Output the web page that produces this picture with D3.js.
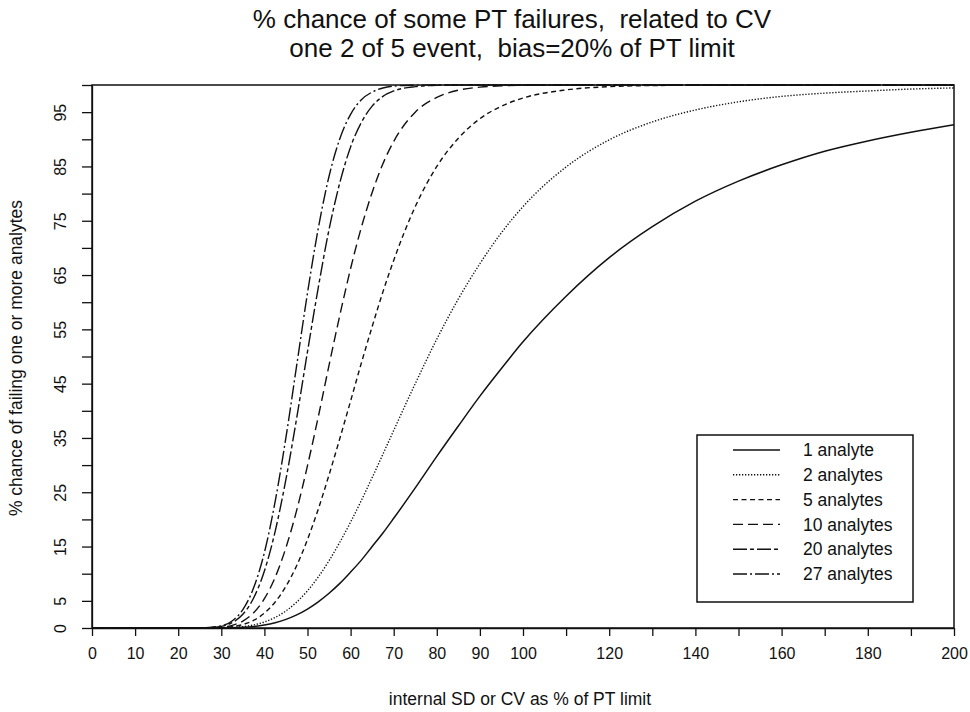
<!DOCTYPE html>
<html>
<head>
<meta charset="utf-8">
<script src="https://cdn.jsdelivr.net/npm/d3@7"></script>
<style>
  body { margin: 0; background: #fff; }
  text { font-family: "Liberation Sans", Arial, sans-serif; fill: #111; }
</style>
</head>
<body>
<div id="chart"></div>
<script>
// x values: internal SD or CV as % of PT limit
var cvValues = [0, 10, 20, 25, 30, 32.5, 35, 37.5, 40, 42.5, 45, 47.5, 50, 52.5, 55, 57.5, 60, 62.5, 65, 67.5, 70, 75, 80, 85, 90, 95, 100, 110, 120, 130, 140, 150, 160, 170, 180, 190, 200];

// % chance of failing, one array per series
var analytes1  = [0, 0, 0, 0, 0.01, 0.05, 0.13, 0.28, 0.55, 0.98, 1.59, 2.42, 3.49, 4.82, 6.40, 8.22, 10.3, 12.5, 15.0, 17.5, 20.2, 25.8, 31.6, 37.2, 42.7, 47.8, 52.7, 61.1, 68.2, 73.9, 78.6, 82.3, 85.3, 87.8, 89.7, 91.3, 92.7];
var analytes2  = [0, 0, 0, 0, 0.03, 0.10, 0.26, 0.57, 1.10, 1.94, 3.15, 4.78, 6.86, 9.40, 12.4, 15.8, 19.5, 23.5, 27.7, 32.0, 36.4, 45.0, 53.2, 60.6, 67.1, 72.8, 77.6, 84.9, 89.9, 93.2, 95.4, 96.9, 97.9, 98.5, 98.9, 99.25, 99.46];
var analytes5  = [0, 0, 0, 0, 0.07, 0.24, 0.64, 1.41, 2.74, 4.78, 7.69, 11.5, 16.3, 21.9, 28.2, 34.9, 41.8, 48.8, 55.5, 61.9, 67.7, 77.6, 85.0, 90.2, 93.8, 96.1, 97.6, 99.1, 99.7, 99.9, 99.95, 100, 100, 100, 100, 100, 100];
var analytes10 = [0, 0, 0, 0, 0.15, 0.49, 1.27, 2.80, 5.40, 9.34, 14.8, 21.7, 29.9, 38.9, 48.4, 57.6, 66.2, 73.8, 80.2, 85.5, 89.6, 95.0, 97.7, 99.05, 99.6, 99.85, 99.94, 100, 100, 100, 100, 100, 100, 100, 100, 100, 100];
var analytes20 = [0, 0, 0, 0, 0.30, 0.97, 2.52, 5.53, 10.5, 17.8, 27.4, 38.7, 50.9, 62.7, 73.4, 82.0, 88.6, 93.1, 96.1, 97.9, 98.9, 99.7, 99.95, 100, 100, 100, 100, 100, 100, 100, 100, 100, 100, 100, 100, 100, 100];
var analytes27 = [0, 0, 0, 0.01, 0.40, 1.3, 3.39, 7.39, 13.9, 23.3, 35.1, 48.4, 61.7, 73.6, 83.2, 90.1, 94.6, 97.3, 98.7, 99.45, 99.8, 99.97, 100, 100, 100, 100, 100, 100, 100, 100, 100, 100, 100, 100, 100, 100, 100];

var seriesNames = ["1 analyte", "2 analytes", "5 analytes", "10 analytes", "20 analytes", "27 analytes"];
var seriesValues = [analytes1, analytes2, analytes5, analytes10, analytes20, analytes27];
var dashes = ["none", "1.3,1.7", "5,3.5", "10,5", "14,3,4,3", "14,3,2,3"];

var yTickLabels = [0, 5, 15, 25, 35, 45, 55, 65, 75, 85, 95];
var xTickLabels = [0, 10, 20, 30, 40, 50, 60, 70, 80, 90, 100, 120, 140, 160, 180, 200];

var totalW = 970, totalH = 712;
var margin = {top: 85, right: 16, bottom: 84, left: 92},
    width = totalW - margin.left - margin.right,
    height = totalH - margin.top - margin.bottom;

var svg = d3.select("#chart")
    .append("svg")
    .attr("width", totalW)
    .attr("height", totalH);

var g = svg.append("g")
    .attr("transform", "translate(" + margin.left + "," + margin.top + ")");

var x = d3.scaleLinear()
    .domain([0, 200])
    .range([0, width]);
var y = d3.scaleLinear()
    .domain([0, 100])
    .range([height, 0]);

// x axis
var xAxis = g.append("g")
    .attr("transform", "translate(0," + height + ")")
    .call(d3.axisBottom(x)
        .tickValues(d3.range(0, 201, 10))
        .tickSize(8)
        .tickSizeOuter(0)
        .tickPadding(12)
        .tickFormat(function(d) { return xTickLabels.indexOf(d) >= 0 ? d : ""; }));
xAxis.selectAll("text").style("font-size", "16px");

// y axis, labels turned sideways
var yAxis = g.append("g")
    .call(d3.axisLeft(y)
        .tickValues(d3.range(0, 101, 5))
        .tickSize(10)
        .tickSizeOuter(0)
        .tickFormat(function(d) { return yTickLabels.indexOf(d) >= 0 ? d : ""; }));
yAxis.selectAll("text")
    .attr("x", 0)
    .attr("y", -26)
    .attr("dy", 0)
    .attr("text-anchor", "middle")
    .attr("transform", "rotate(-90)")
    .style("font-size", "16px");

g.selectAll(".domain, .tick line").attr("stroke", "#111").attr("stroke-width", 1.3);

// frame
g.append("rect")
    .attr("width", width)
    .attr("height", height)
    .attr("fill", "none")
    .attr("stroke", "#111")
    .attr("stroke-width", 1.5);

// curves
var line = d3.line()
    .x(function(d) { return x(d[0]); })
    .y(function(d) { return y(d[1]); })
    .curve(d3.curveMonotoneX);

seriesValues.forEach(function(vals, i) {
    g.append("path")
        .datum(cvValues.map(function(c, j) { return [c, vals[j]]; }))
        .attr("fill", "none")
        .attr("stroke", "#111")
        .attr("stroke-width", i == 0 ? 1.5 : 1.4)
        .attr("stroke-dasharray", dashes[i])
        .attr("d", line);
});

// legend
var legend = svg.append("g")
    .attr("transform", "translate(697,435)");
legend.append("rect")
    .attr("width", 216)
    .attr("height", 167)
    .attr("fill", "#fff")
    .attr("stroke", "#111")
    .attr("stroke-width", 1.5);
seriesNames.forEach(function(name, i) {
    var ly = 15 + i * 24.8;
    legend.append("line")
        .attr("x1", 36).attr("x2", 83)
        .attr("y1", ly).attr("y2", ly)
        .attr("stroke", "#111")
        .attr("stroke-width", 1.4)
        .attr("stroke-dasharray", dashes[i]);
    legend.append("text")
        .attr("x", 106)
        .attr("y", ly)
        .attr("dy", "0.35em")
        .style("font-size", "17.5px")
        .text(name);
});

// titles
svg.append("text")
    .attr("x", 512)
    .attr("y", 28)
    .attr("text-anchor", "middle")
    .style("font-size", "26px")
    .style("white-space", "pre")
    .text("% chance of some PT failures,  related to CV");
svg.append("text")
    .attr("x", 512)
    .attr("y", 57)
    .attr("text-anchor", "middle")
    .style("font-size", "26px")
    .style("white-space", "pre")
    .text("one 2 of 5 event,  bias=20% of PT limit");

// axis titles
svg.append("text")
    .attr("transform", "translate(22,358) rotate(-90)")
    .attr("text-anchor", "middle")
    .style("font-size", "17.5px")
    .text("% chance of failing one or more analytes");
svg.append("text")
    .attr("x", 520)
    .attr("y", 705)
    .attr("text-anchor", "middle")
    .style("font-size", "17.5px")
    .text("internal SD or CV as % of PT limit");
</script>
</body>
</html>
